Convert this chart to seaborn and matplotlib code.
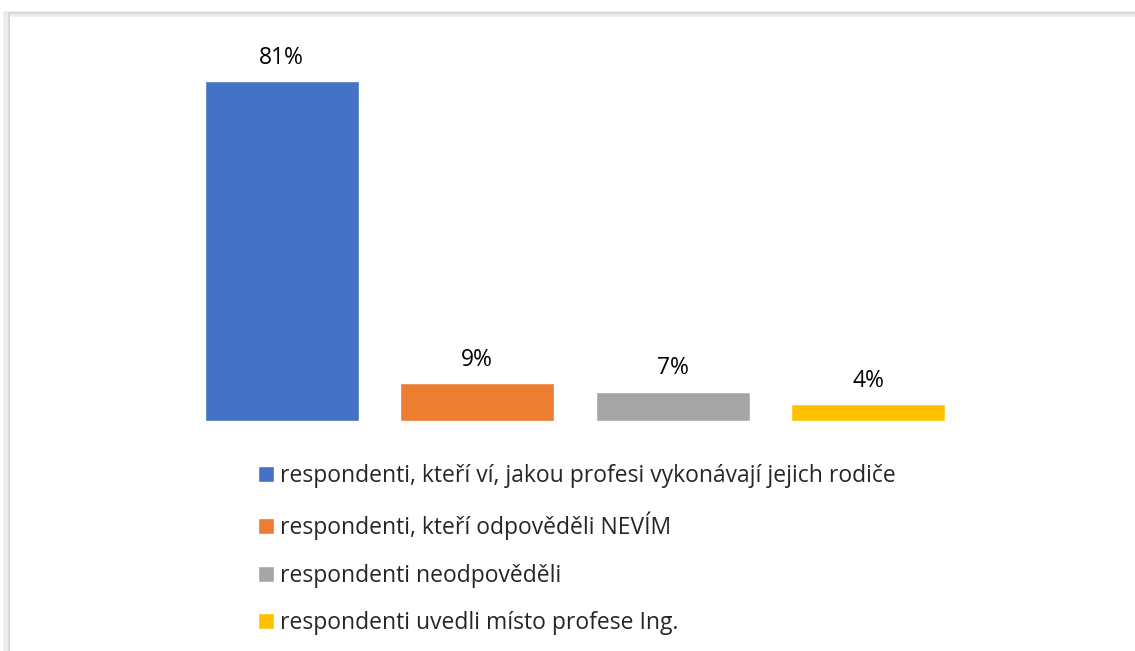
import matplotlib
matplotlib.use('Agg')
import matplotlib.pyplot as plt
import matplotlib.patches as mpatches
import seaborn as sns
import pandas as pd

# Data
kategorie = [
    'respondenti, kteří ví, jakou profesi vykonávají jejich rodiče',
    'respondenti, kteří odpověděli NEVÍM',
    'respondenti neodpověděli',
    'respondenti uvedli místo profese Ing.',
]
hodnoty = [81, 9, 7, 4]
barvy = ['#4472C4', '#ED7D31', '#A5A5A5', '#FFC000']

sns.set_theme(style='white')
plt.rcParams['font.family'] = ['Open Sans', 'DejaVu Sans']

df = pd.DataFrame({'kategorie': kategorie, 'hodnota': hodnoty})

fig = plt.figure(figsize=(11.35, 6.51), dpi=100)
fig.patch.set_facecolor('white')

# chart frame (Excel-like border with slight shadow)
fig.add_artist(mpatches.Rectangle((6 / 1135, -0.1), 1.2, 1.1 - 14 / 651,
                                  transform=fig.transFigure, fill=False,
                                  edgecolor='#ececec', linewidth=4))
fig.add_artist(mpatches.Rectangle((8.5 / 1135, -0.1), 1.2, 1.1 - 12.5 / 651,
                                  transform=fig.transFigure, fill=False,
                                  edgecolor='#d6d6d6', linewidth=1.3))

ax = fig.add_axes([184 / 1135, 1 - 421 / 651, 782 / 1135, 378 / 651])
sns.barplot(data=df, x='kategorie', y='hodnota', hue='kategorie',
            palette=barvy, width=0.79, saturation=1, dodge=False,
            legend=True, ax=ax)

for cont in ax.containers:
    ax.bar_label(cont, fmt='%d%%', padding=8, fontsize=16.5, color='#000000')

ax.set_xlim(-0.5, 3.5)
ax.set_ylim(0, 90)
ax.set_xticks([])
ax.set_yticks([])
ax.set_xlabel('')
ax.set_ylabel('')
for s in ax.spines.values():
    s.set_visible(False)
ax.set_facecolor('none')

handles, labels = ax.get_legend_handles_labels()
ax.legend(handles, labels, loc='upper left',
          bbox_to_anchor=(258 / 1135, 1 - 464 / 651),
          bbox_transform=fig.transFigure, frameon=False,
          fontsize=16.5, labelcolor='#262626',
          handlelength=0.68, handleheight=0.68, handletextpad=0.3,
          labelspacing=1.03, borderaxespad=0, borderpad=0)

plt.savefig('out.png', dpi=100, facecolor='white')
plt.close()
